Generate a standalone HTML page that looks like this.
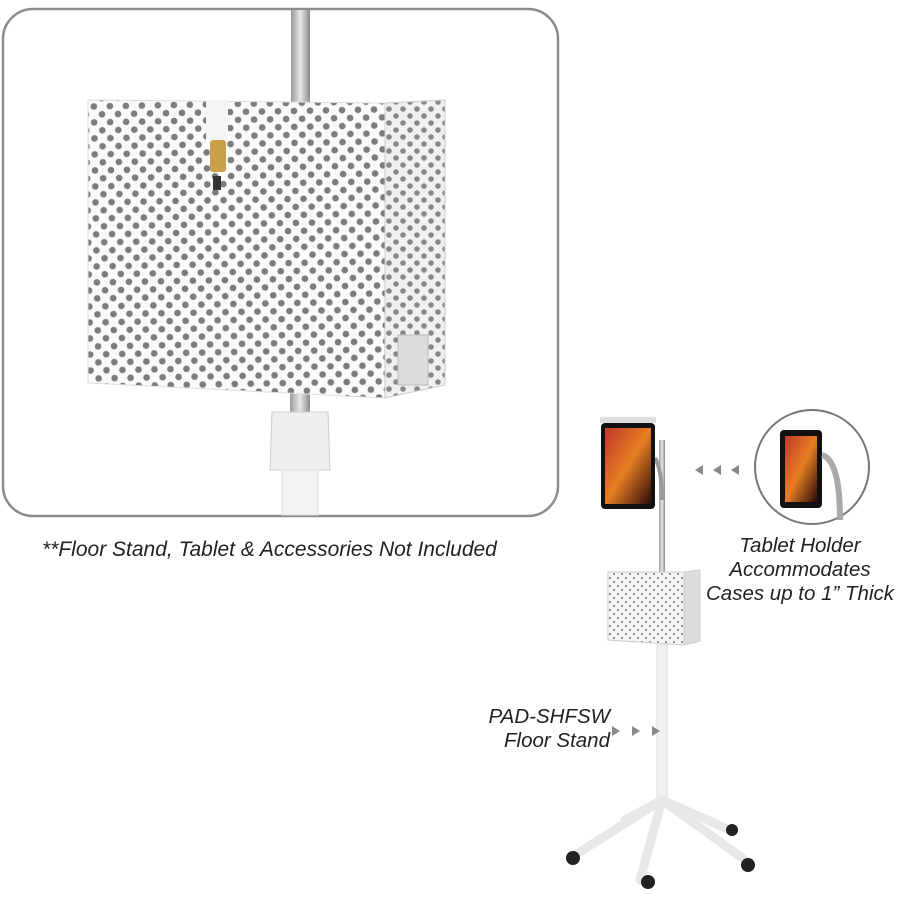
<!DOCTYPE html>
<html><head><meta charset="utf-8"><style>
html,body{margin:0;padding:0;background:#fff;width:900px;height:900px;overflow:hidden}
.t{position:absolute;font-family:"Liberation Sans",sans-serif;font-style:italic;color:#222;font-size:20.5px;line-height:24px}
</style></head><body>
<svg width="900" height="900" style="position:absolute;left:0;top:0">
<defs>
<pattern id="dots" width="16" height="16" patternUnits="userSpaceOnUse" patternTransform="rotate(-1)">
<rect width="16" height="16" fill="#fafafa"/>
<circle cx="4" cy="4" r="3.3" fill="#7c7c7c"/><circle cx="12" cy="12" r="3.3" fill="#7c7c7c"/>
</pattern>
<pattern id="dots2" width="14" height="14" patternUnits="userSpaceOnUse">
<rect width="14" height="14" fill="#f0f0f0"/>
<circle cx="4" cy="4" r="2.8" fill="#888"/><circle cx="11" cy="11" r="2.8" fill="#888"/>
</pattern>
<pattern id="sdots" width="8" height="8" patternUnits="userSpaceOnUse">
<rect width="8" height="8" fill="#f6f6f6"/><circle cx="2" cy="2" r="1.1" fill="#888"/><circle cx="6" cy="6" r="1.1" fill="#888"/>
</pattern>
<linearGradient id="pole" x1="0" x2="1"><stop offset="0" stop-color="#9a9a9a"/><stop offset=".5" stop-color="#e8e8e8"/><stop offset="1" stop-color="#8a8a8a"/></linearGradient>
<linearGradient id="scr" x1="0" y1="0" x2="1" y2="1"><stop offset="0" stop-color="#c0392b"/><stop offset=".5" stop-color="#e67e22"/><stop offset="1" stop-color="#2c0b0b"/></linearGradient>
</defs>
<rect x="3" y="9" width="555" height="507" rx="30" fill="#fff" stroke="#8c8c8c" stroke-width="2.5"/>
<rect x="291" y="10" width="19" height="92" fill="url(#pole)"/>
<rect x="290" y="390" width="20" height="25" fill="url(#pole)"/>
<path d="M272 412 L328 412 L330 470 L270 470 Z" fill="#efefef" stroke="#ccc"/>
<rect x="282" y="470" width="36" height="45" fill="#f3f3f3" stroke="#ddd"/>
<polygon points="88,100 385,103 385,398 88,383" fill="url(#dots)" stroke="#ddd"/>
<polygon points="385,103 445,100 445,385 385,398" fill="url(#dots2)" stroke="#ccc"/>
<rect x="398" y="335" width="30" height="50" fill="#ddd" stroke="#bbb"/>
<rect x="206" y="100" width="22" height="40" fill="#f4f4f4"/>
<rect x="210" y="140" width="16" height="32" rx="3" fill="#c9a04a"/>
<rect x="213" y="176" width="8" height="14" fill="#333"/>
<rect x="659" y="440" width="6" height="200" fill="url(#pole)"/>
<path d="M655 458 Q662 470 662 500" stroke="#999" stroke-width="4" fill="none"/>
<rect x="601" y="423" width="54" height="86" rx="4" fill="#111"/>
<rect x="605" y="428" width="46" height="76" fill="url(#scr)"/>
<rect x="600" y="417" width="56" height="6" fill="#ddd"/>
<polygon points="608,572 684,572 684,645 608,640" fill="url(#sdots)" stroke="#ccc"/>
<polygon points="684,572 700,570 700,641 684,645" fill="#ddd" stroke="#ccc"/>
<rect x="657" y="645" width="10" height="160" fill="#f2f2f2" stroke="#ddd"/>
<path d="M662 800 L575 855 M662 800 L640 880 M662 800 L745 860 M662 800 L730 830 M662 800 L625 820" stroke="#e8e8e8" stroke-width="9" stroke-linecap="round"/>
<circle cx="573" cy="858" r="7" fill="#222"/><circle cx="648" cy="882" r="7" fill="#222"/><circle cx="748" cy="865" r="7" fill="#222"/><circle cx="732" cy="830" r="6" fill="#222"/>
<circle cx="812" cy="467" r="57" fill="#fff" stroke="#777" stroke-width="2"/>
<rect x="780" y="430" width="42" height="78" rx="4" fill="#111"/>
<rect x="785" y="436" width="32" height="66" fill="url(#scr)"/>
<path d="M822 455 Q840 460 840 520" stroke="#aaa" stroke-width="6" fill="none"/>
<g fill="#888"><polygon points="695,470 703,465 703,475"/><polygon points="713,470 721,465 721,475"/><polygon points="731,470 739,465 739,475"/>
<polygon points="620,731 612,726 612,736"/><polygon points="640,731 632,726 632,736"/><polygon points="660,731 652,726 652,736"/></g>
</svg>
<div class="t" style="left:42px;top:538px;font-size:21px">**Floor Stand, Tablet &amp; Accessories Not Included</div>
<div class="t" style="left:700px;top:534px;width:200px;text-align:center">Tablet Holder<br>Accommodates<br>Cases up to 1” Thick</div>
<div class="t" style="left:430px;top:705px;width:180px;text-align:right">PAD-SHFSW<br>Floor Stand</div>
</body></html>
